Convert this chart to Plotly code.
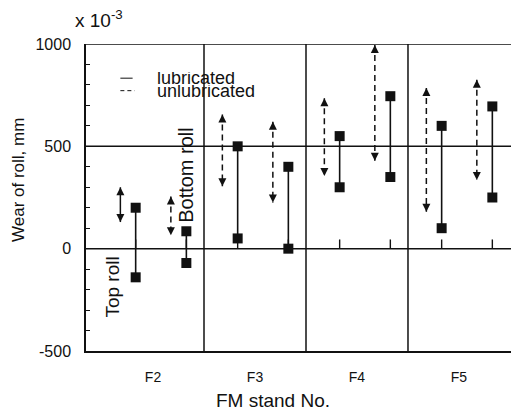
import plotly.graph_objects as go

# ---- data (x10^-3 mm) ----
stands = ["F2", "F3", "F4", "F5"]
stand_pos = [1, 2, 3, 4]

top_lub_high = [200, 500, 550, 600]
top_lub_low = [-140, 50, 300, 100]
bot_lub_high = [85, 400, 745, 695]
bot_lub_low = [-70, 0, 350, 250]

top_unlub_high = [300, 655, 735, 785]
top_unlub_low = [130, 305, 355, 180]
bot_unlub_high = [255, 620, 995, 825]
bot_unlub_low = [65, 225, 430, 335]

y_ticks = [-500, 0, 500, 1000]
y_tick_text = ["-500", "0", "500", "1000"]

# ---- style ----
OFF_TOP_ARROW = -0.32
OFF_TOP_LUB = -0.17
OFF_BOT_ARROW = 0.175
OFF_BOT_LUB = 0.327
STUB = 45
FONT = "Liberation Sans, Arial, Helvetica, sans-serif"
BLACK = "#111111"

fig = go.Figure()


def pairs(xs, hi, lo):
    X, Y = [], []
    for x, h, l in zip(xs, hi, lo):
        X += [x, x, None]
        Y += [h, l, None]
    return X, Y


# lubricated (solid with squares)
for off, hi, lo in [(OFF_TOP_LUB, top_lub_high, top_lub_low),
                    (OFF_BOT_LUB, bot_lub_high, bot_lub_low)]:
    xs = [p + off for p in stand_pos]
    X, Y = pairs(xs, hi, lo)
    fig.add_trace(go.Scatter(x=X, y=Y, mode="lines+markers",
                             line=dict(color=BLACK, width=1.6),
                             marker=dict(symbol="square", size=10, color=BLACK),
                             showlegend=False, hoverinfo="skip", cliponaxis=False))
    # small stubs at the zero line
    X2, Y2 = pairs(xs, [STUB] * 4, [0] * 4)
    fig.add_trace(go.Scatter(x=X2, y=Y2, mode="lines",
                             line=dict(color=BLACK, width=1.4),
                             showlegend=False, hoverinfo="skip"))

# unlubricated (dashed double arrows)
arrow_sets = [(OFF_TOP_ARROW, top_unlub_high, top_unlub_low),
              (OFF_BOT_ARROW, bot_unlub_high, bot_unlub_low)]
for k, (off, hi, lo) in enumerate(arrow_sets):
    for i, p in enumerate(stand_pos):
        dash = "solid" if (k == 0 and i == 0) else "6px,4px"
        fig.add_trace(go.Scatter(x=[p + off, p + off], y=[hi[i], lo[i]],
                                 mode="lines+markers",
                                 line=dict(color=BLACK, width=1.5, dash=dash),
                                 marker=dict(symbol=["arrow-up", "arrow-down"],
                                             size=8, color=BLACK),
                                 showlegend=False, hoverinfo="skip",
                                 cliponaxis=False))

# frame / grid lines
shapes = []
for yv in [0, 500, 1000]:
    shapes.append(dict(type="line", xref="paper", yref="y", x0=0, x1=1, y0=yv, y1=yv,
                       line=dict(color=BLACK, width=1.5)))
for xv in [1.5, 2.5, 3.5]:
    shapes.append(dict(type="line", xref="x", yref="paper", x0=xv, x1=xv, y0=0, y1=1,
                       line=dict(color=BLACK, width=1.5)))
# legend samples
shapes.append(dict(type="line", xref="x", yref="y", x0=0.68, x1=0.80, y0=833, y1=833,
                   line=dict(color=BLACK, width=1)))
shapes.append(dict(type="line", xref="x", yref="y", x0=0.68, x1=0.82, y0=772, y1=772,
                   line=dict(color=BLACK, width=1, dash="4px,3px")))


def ann(text, x, y, xref, yref, size, angle=0, xa="center", ya="middle", h=None):
    d = dict(text=text, x=x, y=y, xref=xref, yref=yref, textangle=angle,
             xanchor=xa, yanchor=ya, showarrow=False,
             font=dict(size=size, color=BLACK, family=FONT))
    if h is not None:
        d["height"] = h
    return d


annotations = [
    ann("lubricated", 1.02, 833, "x", "y", 18, xa="left", h=12),
    ann("unlubricated", 1.02, 772, "x", "y", 18, xa="left", h=12),
    ann("Top roll", 0.608, -190, "x", "y", 19, angle=-90),
    ann("Bottom roll", 1.324, 361, "x", "y", 20, angle=-90),
    ann("Wear of roll, mm", -0.16, 0.557, "paper", "paper", 17, angle=-90),
    ann("FM stand No.", 2.176, -0.16, "x", "paper", 19),
    ann("x 10<sup>-3</sup>", -0.03, 1.08, "paper", "paper", 19, xa="left"),
]

fig.update_layout(
    width=511, height=415,
    margin=dict(l=86, r=0, t=44, b=64),
    paper_bgcolor="white", plot_bgcolor="white",
    shapes=shapes, annotations=annotations,
    font=dict(family=FONT, color=BLACK),
    xaxis=dict(range=[0.343, 4.51], tickvals=stand_pos, ticktext=stands,
               showgrid=False, zeroline=False, showline=True, linecolor=BLACK,
               linewidth=1.5, ticks="", ticklabelstandoff=12,
               tickfont=dict(size=14, color=BLACK, family=FONT)),
    yaxis=dict(range=[-500, 1000], tickvals=y_ticks, ticktext=y_tick_text,
               showgrid=False, zeroline=False, showline=True, linecolor=BLACK,
               linewidth=1.5, ticks="inside", ticklen=4, tickcolor=BLACK,
               minor=dict(dtick=100, ticks="inside", ticklen=4, tickcolor=BLACK),
               ticklabelstandoff=10,
               tickfont=dict(size=16, color=BLACK, family=FONT)),
)

fig.write_html("out.html")
